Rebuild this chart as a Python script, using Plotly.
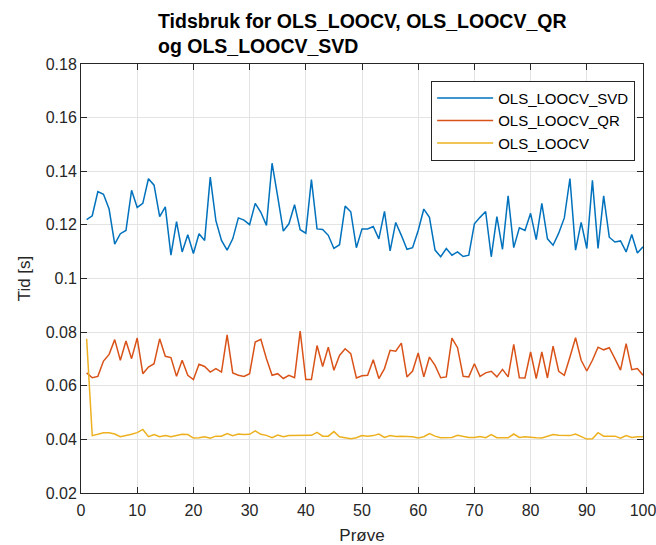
import plotly.graph_objects as go

# Sample index (1..100)
proeve = list(range(1, 101))

# Time per run [s]
t_svd = [
    0.122, 0.1234, 0.1324, 0.1314, 0.1259, 0.1128, 0.1167, 0.1179, 0.1329, 0.1265,
    0.128, 0.1372, 0.1348, 0.1231, 0.1267, 0.1087, 0.1212, 0.1099, 0.1163, 0.1093,
    0.1167, 0.1142, 0.1378, 0.1216, 0.1142, 0.1106, 0.1148, 0.1226, 0.1218, 0.1201,
    0.128, 0.1247, 0.1198, 0.143, 0.1305, 0.1177, 0.1204, 0.1275, 0.1182, 0.1169,
    0.1369, 0.1185, 0.1183, 0.1161, 0.1112, 0.1126, 0.127, 0.1249, 0.1115, 0.1185,
    0.1185, 0.1194, 0.1148, 0.125, 0.1103, 0.1209, 0.1161, 0.1109, 0.1115, 0.1179,
    0.1259, 0.1228, 0.1106, 0.1081, 0.1112, 0.1087, 0.1099, 0.1082, 0.1087, 0.1204,
    0.1228, 0.125, 0.1081, 0.1231, 0.1109, 0.1308, 0.1115, 0.1189, 0.1179, 0.1243,
    0.1145, 0.128, 0.1148, 0.1124, 0.1169, 0.1226, 0.1373, 0.1106, 0.1209, 0.1112,
    0.1366, 0.1112, 0.1308, 0.1154, 0.1136, 0.114, 0.1099, 0.1164, 0.1095, 0.1118,
]

t_qr = [
    0.0648, 0.063, 0.0635, 0.0692, 0.0717, 0.0772, 0.0695, 0.0767, 0.0701, 0.0778,
    0.0645, 0.067, 0.0682, 0.0775, 0.071, 0.0705, 0.0635, 0.0695, 0.0639, 0.0623,
    0.068, 0.0672, 0.0651, 0.0664, 0.0651, 0.079, 0.0648, 0.0639, 0.0635, 0.0645,
    0.0763, 0.0773, 0.0701, 0.0639, 0.0645, 0.0627, 0.0639, 0.063, 0.0804, 0.0623,
    0.0623, 0.075, 0.0672, 0.0744, 0.0658, 0.0713, 0.0738, 0.072, 0.0629, 0.0637,
    0.0639, 0.0697, 0.0627, 0.0664, 0.0732, 0.0729, 0.0759, 0.0633, 0.0655, 0.0722,
    0.0633, 0.0707, 0.0676, 0.063, 0.0633, 0.0778, 0.0742, 0.0635, 0.0633, 0.0682,
    0.0635, 0.0648, 0.0654, 0.0633, 0.0661, 0.0633, 0.0754, 0.063, 0.0629, 0.0726,
    0.0627, 0.0726, 0.0629, 0.0748, 0.0654, 0.0639, 0.0707, 0.0779, 0.0695, 0.0655,
    0.0695, 0.0744, 0.0734, 0.0742, 0.0701, 0.0658, 0.0757, 0.066, 0.0664, 0.0639,
]

t_loocv = [
    0.0775, 0.0414, 0.0419, 0.0425, 0.0425, 0.042, 0.041, 0.0414, 0.0419, 0.0425,
    0.0437, 0.041, 0.0418, 0.041, 0.0414, 0.041, 0.0414, 0.0419, 0.0418, 0.0405,
    0.0406, 0.041, 0.0404, 0.0412, 0.0412, 0.0422, 0.0414, 0.042, 0.0418, 0.0419,
    0.0432, 0.0419, 0.0415, 0.0406, 0.0416, 0.041, 0.0414, 0.0414, 0.0416, 0.0415,
    0.0415, 0.0426, 0.0412, 0.0412, 0.0429, 0.041, 0.0406, 0.0402, 0.0406, 0.0414,
    0.0412, 0.0414, 0.042, 0.0407, 0.0414, 0.0411, 0.0412, 0.0412, 0.041, 0.0405,
    0.041, 0.0422, 0.0412, 0.0406, 0.0407, 0.0407, 0.0415, 0.0412, 0.0407, 0.0407,
    0.0411, 0.0406, 0.0418, 0.0406, 0.0406, 0.0406, 0.042, 0.0407, 0.041, 0.0407,
    0.0406, 0.0405, 0.0412, 0.0418, 0.0415, 0.0415, 0.0414, 0.042, 0.0412, 0.0401,
    0.0402, 0.0425, 0.0412, 0.0412, 0.0412, 0.0404, 0.0414, 0.0407, 0.041, 0.041,
]

series_names = ["OLS_LOOCV_SVD", "OLS_LOOCV_QR", "OLS_LOOCV"]
series_colors = ["#0072BD", "#D95319", "#EDB120"]

x_ticks = list(range(0, 101, 10))
y_ticks = [0.02, 0.04, 0.06, 0.08, 0.1, 0.12, 0.14, 0.16, 0.18]
y_tick_labels = ["0.02", "0.04", "0.06", "0.08", "0.1", "0.12", "0.14", "0.16", "0.18"]

FONT = "Liberation Sans, Arial, Helvetica, sans-serif"
AXIS_COLOR = "#262626"

fig = go.Figure()
for name, values, color in zip(series_names, [t_svd, t_qr, t_loocv], series_colors):
    fig.add_trace(go.Scatter(
        x=proeve, y=values, mode="lines", name=name,
        line=dict(color=color, width=1.5),
    ))

axis_common = dict(
    showline=True, linecolor=AXIS_COLOR, linewidth=1, mirror="ticks",
    ticks="inside", ticklen=6, tickcolor=AXIS_COLOR, tickwidth=1,
    showgrid=True, gridcolor="#e3e3e3", gridwidth=1, zeroline=False,
    tickfont=dict(family=FONT, size=16, color=AXIS_COLOR),
    automargin=False, ticklabeloverflow="allow",
)

fig.update_layout(
    width=656, height=545,
    margin=dict(l=81, r=13, t=64, b=52),
    paper_bgcolor="white", plot_bgcolor="white",
    font=dict(family=FONT, color=AXIS_COLOR),
    showlegend=True,
    legend=dict(
        x=0.986, y=0.961, xanchor="right", yanchor="top",
        bgcolor="white", bordercolor=AXIS_COLOR, borderwidth=1,
        font=dict(family=FONT, size=15, color="#000000"),
        tracegroupgap=0, itemwidth=56,
    ),
    xaxis=dict(
        range=[0, 100], tickvals=x_ticks, ticklabelstandoff=3,
        title=dict(text="Prøve", font=dict(family=FONT, size=17, color=AXIS_COLOR), standoff=12),
        **axis_common,
    ),
    yaxis=dict(
        range=[0.02, 0.18], tickvals=y_ticks, ticktext=y_tick_labels,
        title=dict(text="Tid [s]", font=dict(family=FONT, size=17, color=AXIS_COLOR), standoff=10),
        **axis_common,
    ),
    annotations=[dict(
        text="<b>Tidsbruk for OLS_LOOCV, OLS_LOOCV_QR<br>og OLS_LOOCV_SVD</b>",
        xref="paper", yref="paper", x=0.5, y=1.0, xanchor="center", yanchor="bottom",
        yshift=5, align="left", showarrow=False,
        font=dict(family=FONT, size=19.5, color="#000000"),
    )],
)

fig.write_html("out.html")
